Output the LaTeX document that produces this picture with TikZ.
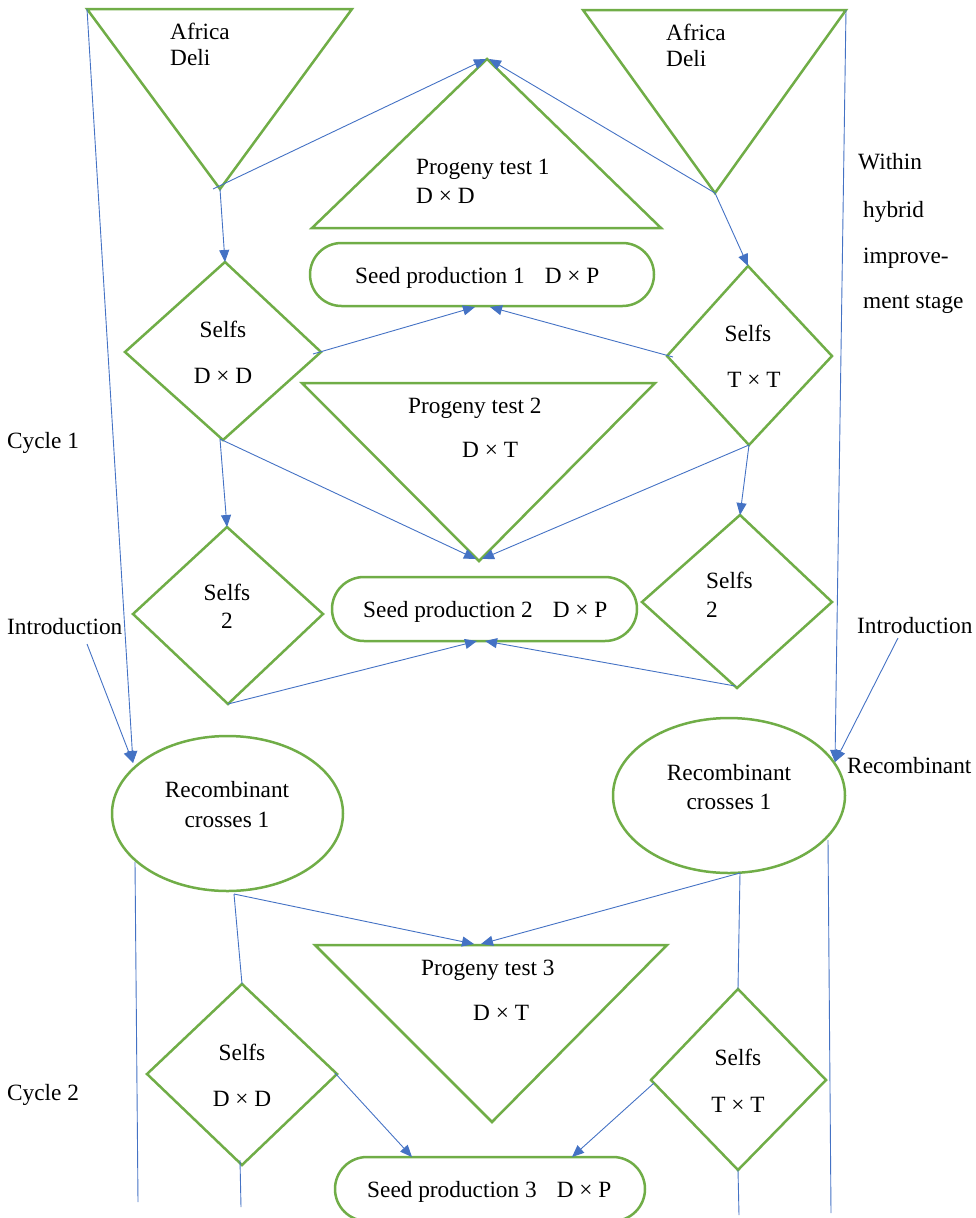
\documentclass[tikz,border=0pt]{standalone}
\usepackage{fontspec}
\setmainfont{Liberation Serif}
\usetikzlibrary{arrows.meta}
\definecolor{boxgreen}{HTML}{70AD47}
\definecolor{linkblue}{HTML}{4472C4}
\tikzset{
  shapeline/.style={draw=boxgreen, line width=2.5pt, line join=miter},
  link/.style={draw=linkblue, line width=0.9pt, -{Triangle[length=12pt,width=10pt]}},
  plainlink/.style={draw=linkblue, line width=0.9pt},
  lbl/.style={font=\fontsize{23.3}{28}\selectfont, inner sep=0pt},
}
\begin{document}
\begin{tikzpicture}[x=1pt,y=-1pt]
\useasboundingbox (0,0) rectangle (976,1218);

% ---------- shape vertices ----------
% Africa Deli (left and right)
\coordinate (aL1) at (87,9);   \coordinate (aL2) at (352,9);   \coordinate (aL3) at (220,189);
\coordinate (aR1) at (583,10); \coordinate (aR2) at (846,10);  \coordinate (aR3) at (715,193);
% Progeny tests
\coordinate (p1a) at (487,59);  \coordinate (p1b) at (312,228); \coordinate (p1c) at (661,228);
\coordinate (p2a) at (302,383); \coordinate (p2b) at (655,383); \coordinate (p2c) at (479,561);
\coordinate (p3a) at (315,945); \coordinate (p3b) at (667,945); \coordinate (p3c) at (492,1122);
% Selfs diamonds (top, right, bottom, left)
\coordinate (sdT) at (225,262); \coordinate (sdR) at (321,352); \coordinate (sdB) at (223,440); \coordinate (sdL) at (125,352);
\coordinate (stT) at (748,266); \coordinate (stR) at (832,356); \coordinate (stB) at (749,445); \coordinate (stL) at (667,356);
\coordinate (s2lT) at (227,527); \coordinate (s2lR) at (323,614); \coordinate (s2lB) at (228,704); \coordinate (s2lL) at (133,614);
\coordinate (s2rT) at (740,515); \coordinate (s2rR) at (832,602); \coordinate (s2rB) at (737,688); \coordinate (s2rL) at (642,602);
\coordinate (c2dT) at (242,984); \coordinate (c2dR) at (337,1074); \coordinate (c2dB) at (242,1165); \coordinate (c2dL) at (147,1074);
\coordinate (c2tT) at (738,989); \coordinate (c2tR) at (826,1080); \coordinate (c2tB) at (738,1170); \coordinate (c2tL) at (651,1080);
% Recombinant ellipses
\coordinate (recL) at (227.5,813.5);
\coordinate (recR) at (729,795.5);

% ---------- shapes ----------
\draw[shapeline] (aL1) -- (aL2) -- (aL3) -- cycle;
\draw[shapeline] (aR1) -- (aR2) -- (aR3) -- cycle;
\draw[shapeline] (p1a) -- (p1c) -- (p1b) -- cycle;
\draw[shapeline] (p2a) -- (p2b) -- (p2c) -- cycle;
\draw[shapeline] (p3a) -- (p3b) -- (p3c) -- cycle;
\draw[shapeline] (sdT) -- (sdR) -- (sdB) -- (sdL) -- cycle;
\draw[shapeline] (stT) -- (stR) -- (stB) -- (stL) -- cycle;
\draw[shapeline] (s2lT) -- (s2lR) -- (s2lB) -- (s2lL) -- cycle;
\draw[shapeline] (s2rT) -- (s2rR) -- (s2rB) -- (s2rL) -- cycle;
\draw[shapeline] (c2dT) -- (c2dR) -- (c2dB) -- (c2dL) -- cycle;
\draw[shapeline] (c2tT) -- (c2tR) -- (c2tB) -- (c2tL) -- cycle;
\draw[shapeline, rounded corners=31.5pt] (310,243) rectangle (654,306);
\draw[shapeline, rounded corners=32pt] (332,577) rectangle (637,641);
\draw[shapeline, rounded corners=32pt] (335,1157) rectangle (645,1221);
\draw[shapeline] (recL) ellipse [x radius=115.5pt, y radius=77.5pt];
\draw[shapeline] (recR) ellipse [x radius=116pt, y radius=77.5pt];

% ---------- texts ----------
\node[lbl, anchor=base west] (tAfL) at (170,39) {Africa};
\node[lbl, anchor=base west] (tDeL) at (170,65) {Deli};
\node[lbl, anchor=base west] (tAfR) at (666,40) {Africa};
\node[lbl, anchor=base west] (tDeR) at (666,66) {Deli};
\node[lbl, anchor=base west] (tPT1) at (416,174) {Progeny test 1};
\node[lbl, anchor=base west] (tPT1x) at (416,203) {D × D};
\node[lbl, anchor=base west] (tSP1) at (355,283) {Seed production 1\hspace{20pt}D × P};
\node[lbl, anchor=base] (tSdd) at (223,337) {Selfs};
\node[lbl, anchor=base] (tSddx) at (223,383) {D × D};
\node[lbl, anchor=base] (tStt) at (748,341) {Selfs};
\node[lbl, anchor=base] (tSttx) at (754,387) {T × T};
\node[lbl, anchor=base west] (tPT2) at (408,413) {Progeny test 2};
\node[lbl, anchor=base west] (tPT2x) at (462,457) {D × T};
\node[lbl, anchor=base west] (tSP2) at (363,617) {Seed production 2\hspace{20pt}D × P};
\node[lbl, anchor=base] (tS2l) at (227,600) {Selfs};
\node[lbl, anchor=base] (tS2ln) at (227,628) {2};
\node[lbl, anchor=base west] (tS2r) at (706,588) {Selfs};
\node[lbl, anchor=base west] (tS2rn) at (706,617) {2};
\node[lbl, anchor=base] (tRecL) at (227,797) {Recombinant};
\node[lbl, anchor=base] (tRecLx) at (227,827) {crosses 1};
\node[lbl, anchor=base] (tRecR) at (729,780) {Recombinant};
\node[lbl, anchor=base] (tRecRx) at (729,809) {crosses 1};
\node[lbl, anchor=base west] (tPT3) at (421,975) {Progeny test 3};
\node[lbl, anchor=base west] (tPT3x) at (473,1020) {D × T};
\node[lbl, anchor=base west] (tSP3) at (367,1197) {Seed production 3\hspace{20pt}D × P};
\node[lbl, anchor=base] (tC2d) at (242,1060) {Selfs};
\node[lbl, anchor=base] (tC2dx) at (242,1106) {D × D};
\node[lbl, anchor=base] (tC2t) at (738,1065) {Selfs};
\node[lbl, anchor=base] (tC2tx) at (738,1112) {T × T};
\node[lbl, anchor=base west] (cyc1) at (7,448) {Cycle 1};
\node[lbl, anchor=base west] (introL) at (7,634) {Introduction};
\node[lbl, anchor=base west] (cyc2) at (7,1100) {Cycle 2};
\node[lbl, anchor=base west] (introR) at (857,633) {Introduction};
\node[lbl, anchor=base west] (recLbl) at (847,773) {Recombinant};
\node[lbl, anchor=base west] (w1) at (858,169) {Within};
\node[lbl, anchor=base west] (w2) at (863,217) {hybrid};
\node[lbl, anchor=base west] (w3) at (863,263) {improve-};
\node[lbl, anchor=base west] (w4) at (863,308) {ment stage};

% ---------- connector end points ----------
\coordinate (introLfoot) at (87,644);
\coordinate (introRfoot) at (898,638);
\coordinate (recLin) at (133,763);
\coordinate (recRin) at (835,762);
\coordinate (aLout) at (213,189);
\coordinate (p1inL) at (486,59);
\coordinate (p1inR) at (489,59);
\coordinate (sdRout) at (313,354);
\coordinate (sp1inL) at (475,307);
\coordinate (sp1inR) at (490,307);
\coordinate (stLout) at (673,357);
\coordinate (sdBout) at (220,439);
\coordinate (p2inL) at (476,559);
\coordinate (p2inR) at (482,559);
\coordinate (sp2inL) at (477,641);
\coordinate (sp2inR) at (485,641);
\coordinate (s2rBout) at (735,686);
\coordinate (recLout) at (234,894);
\coordinate (recRout) at (740,873);
\coordinate (p3inL) at (474,944);
\coordinate (p3inR) at (481,944);
\coordinate (recLside) at (135,862);
\coordinate (recLend) at (138,1202);
\coordinate (recRside) at (828,840);
\coordinate (recRend) at (831,1213);
\coordinate (c2dBout) at (240,1160);
\coordinate (c2dEnd) at (241,1207);
\coordinate (c2tEnd) at (739,1215);
\coordinate (c2dRout) at (335,1073);
\coordinate (c2tLout) at (654,1083);
\coordinate (sp3inL) at (412,1157);
\coordinate (sp3inR) at (572,1157);

% ---------- connectors ----------
\draw[link] (aL1) -- (recLin);
\draw[link] (aR2) -- (recRin);
\draw[link] (introLfoot) -- (recLin);
\draw[link] (introRfoot) -- (recRin);
\draw[link] (aLout) -- (p1inL);
\draw[link] (aR3) -- (p1inR);
\draw[link] (aL3) -- (sdT);
\draw[link] (aR3) -- (stT);
\draw[link] (sdRout) -- (sp1inL);
\draw[link] (stLout) -- (sp1inR);
\draw[link] (sdBout) -- (s2lT);
\draw[link] (sdBout) -- (p2inL);
\draw[link] (stB) -- (p2inR);
\draw[link] (stB) -- (s2rT);
\draw[link] (s2lB) -- (sp2inL);
\draw[link] (s2rBout) -- (sp2inR);
\draw[link] (recLout) -- (p3inL);
\draw[link] (recRout) -- (p3inR);
\draw[plainlink] (recLout) -- (c2dT);
\draw[plainlink] (recRout) -- (c2tT);
\draw[plainlink] (recLside) -- (recLend);
\draw[plainlink] (recRside) -- (recRend);
\draw[plainlink] (c2dBout) -- (c2dEnd);
\draw[plainlink] (c2tB) -- (c2tEnd);
\draw[link] (c2dRout) -- (sp3inL);
\draw[link] (c2tLout) -- (sp3inR);
\end{tikzpicture}
\end{document}
